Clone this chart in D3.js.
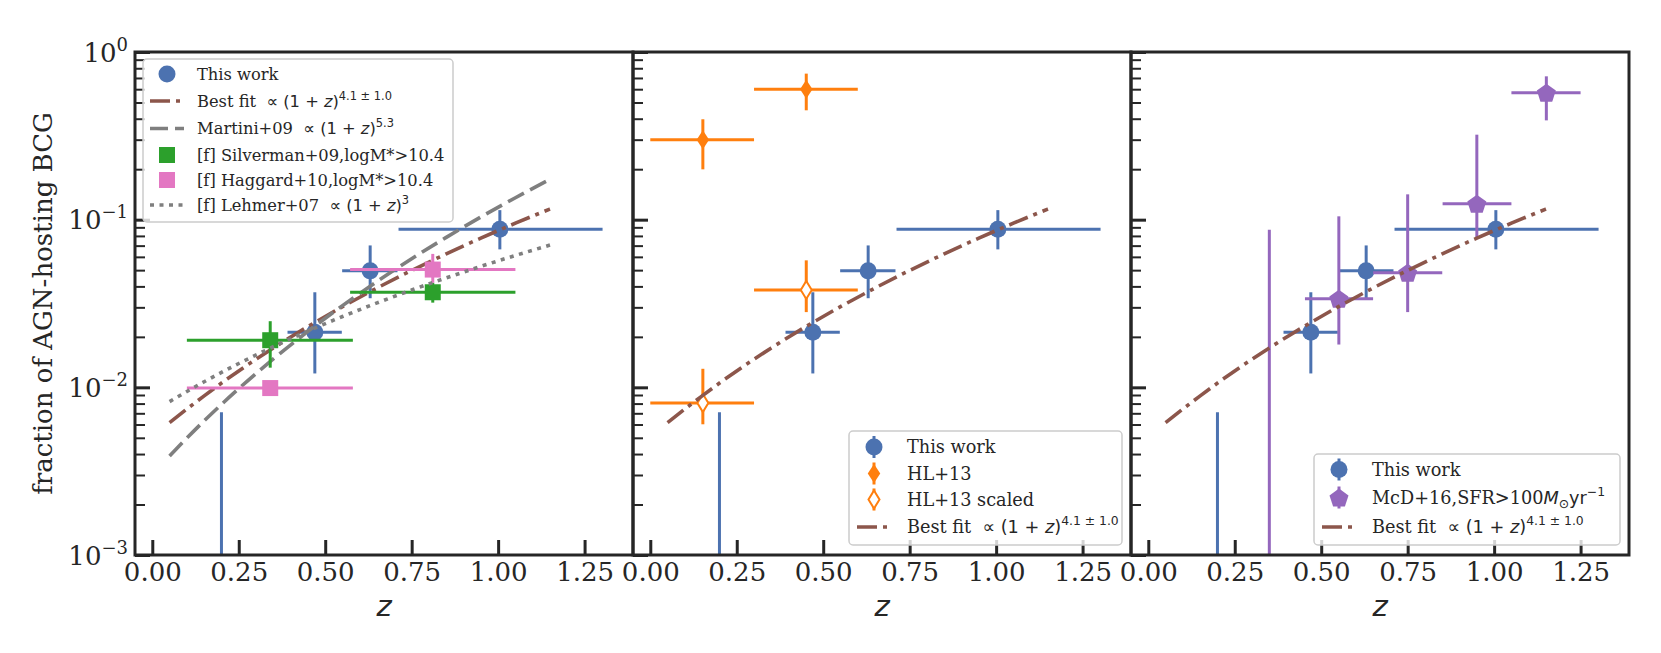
<!DOCTYPE html>
<html>
<head>
<meta charset="utf-8">
<script src="https://cdn.jsdelivr.net/npm/d3@7"></script>
<style>
  body { margin: 0; background: #fff; }
</style>
</head>
<body>
<svg id="fig" width="1661" height="653"></svg>
<script>
// ---- data ----
// This work (same points in every panel)
const workZ   = [0.20, 0.470, 0.630, 1.005];
const workF   = [0.0004, 0.0213, 0.0495, 0.0876];
const workFlo = [0.00001, 0.0121, 0.0340, 0.0665];
const workFhi = [0.0071, 0.0369, 0.0702, 0.1140];
const workZlo = [0.20, 0.391, 0.549, 0.712];
const workZhi = [0.20, 0.548, 0.709, 1.302];

// Silverman+09
const silZ   = [0.341, 0.811];
const silF   = [0.0191, 0.0369];
const silFlo = [0.0131, 0.0320];
const silFhi = [0.0248, 0.0420];
const silZlo = [0.10, 0.572];
const silZhi = [0.58, 1.05];

// Haggard+10
const hagZ   = [0.341, 0.811];
const hagF   = [0.0099, 0.0504];
const hagFlo = [0.0099, 0.0420];
const hagFhi = [0.0099, 0.0625];
const hagZlo = [0.10, 0.572];
const hagZhi = [0.58, 1.05];

// HL+13 and HL+13 scaled
const hlZ    = [0.152, 0.451];
const hlZlo  = [0.0, 0.30];
const hlZhi  = [0.30, 0.60];
const hlF    = [0.300, 0.599];
const hlFlo  = [0.1996, 0.449];
const hlFhi  = [0.397, 0.743];
const hlsF   = [0.00806, 0.0381];
const hlsFlo = [0.00602, 0.0281];
const hlsFhi = [0.0129, 0.0572];

// McD+16, SFR>100
const mcdZ   = [0.35, 0.551, 0.750, 0.950, 1.151];
const mcdF   = [0.0003, 0.0338, 0.0483, 0.1245, 0.572];
const mcdFlo = [0.00001, 0.0180, 0.0281, 0.0771, 0.391];
const mcdFhi = [0.0871, 0.1047, 0.1416, 0.3213, 0.716];
const mcdZlo = [0.35, 0.453, 0.650, 0.851, 1.050];
const mcdZhi = [0.35, 0.650, 0.850, 1.050, 1.250];

// model curves
const curveZ   = [0.05, 0.15, 0.25, 0.35, 0.45, 0.55, 0.65, 0.75, 0.85, 0.95, 1.05, 1.15];
const fitF     = [0.00616, 0.00890, 0.01253, 0.01718, 0.02303, 0.03027, 0.03912, 0.0498, 0.06253, 0.0776, 0.09525, 0.1158];
const martiniF = [0.00390, 0.00631, 0.00982, 0.01477, 0.02157, 0.03071, 0.04278, 0.05844, 0.07844, 0.1037, 0.1352, 0.1740];
const lehmerF  = [0.00822, 0.0108, 0.01387, 0.01747, 0.02165, 0.02644, 0.03189, 0.03805, 0.04495, 0.05265, 0.06117, 0.07056];

// ticks
const xTicks = [0, 0.25, 0.5, 0.75, 1.0, 1.25];
const yMajor = [1e-3, 1e-2, 1e-1, 1];
const yExp   = ["\u22123", "\u22122", "\u22121", "0"];

// ---- style ----
const ink = "#262626";
const serif = "DejaVu Serif";
const sans = "DejaVu Sans";
const C = {
  blue: "#4c72b0", orange: "#ff7f0e", green: "#2ca02c", pink: "#e377c2",
  brown: "#8c564b", gray: "#7f7f7f", purple: "#9467bd"
};

const svg = d3.select("#fig");
const topY = 52, H = 503, W = 498;
const lefts = [135, 633, 1131];

const x = d3.scaleLinear().domain([-0.05, 1.39]).range([0, W]);
const y = d3.scaleLog().domain([1e-3, 1]).range([H, 0]);

const yMinor = [];
[1e-3, 1e-2, 1e-1].forEach(b => d3.range(2, 10).forEach(k => yMinor.push(b * k)));

function rows(zs, fs, flo, fhi, zlo, zhi) {
  return zs.map((z, i) => ({ z, f: fs[i], flo: flo[i], fhi: fhi[i], zlo: zlo[i], zhi: zhi[i] }));
}
const work = rows(workZ, workF, workFlo, workFhi, workZlo, workZhi);
const sil = rows(silZ, silF, silFlo, silFhi, silZlo, silZhi);
const hag = rows(hagZ, hagF, hagFlo, hagFhi, hagZlo, hagZhi);
const hl = rows(hlZ, hlF, hlFlo, hlFhi, hlZlo, hlZhi);
const hls = rows(hlZ, hlsF, hlsFlo, hlsFhi, hlZlo, hlZhi);
const mcd = rows(mcdZ, mcdF, mcdFlo, mcdFhi, mcdZlo, mcdZhi);

// marker shapes
const pentagon = r => {
  const p = d3.path();
  d3.range(5).forEach(i => {
    const a = -Math.PI / 2 + i * 2 * Math.PI / 5;
    i ? p.lineTo(r * Math.cos(a), r * Math.sin(a)) : p.moveTo(r * Math.cos(a), r * Math.sin(a));
  });
  p.closePath();
  return p.toString();
};
const thinDiamond = (w, h) => `M0,${-h / 2}L${w / 2},0L0,${h / 2}L${-w / 2},0Z`;

function marker(g, kind, color, cx, cy) {
  if (kind === "circle") {
    g.append("circle").attr("cx", cx).attr("cy", cy).attr("r", 8.5).attr("fill", color);
  } else if (kind === "square") {
    g.append("rect").attr("x", cx - 8).attr("y", cy - 8).attr("width", 16).attr("height", 16).attr("fill", color);
  } else if (kind === "diamond") {
    g.append("path").attr("transform", `translate(${cx},${cy})`).attr("d", thinDiamond(12.5, 19)).attr("fill", color);
  } else if (kind === "odiamond") {
    g.append("path").attr("transform", `translate(${cx},${cy})`).attr("d", thinDiamond(11, 18))
      .attr("fill", "#fff").attr("stroke", color).attr("stroke-width", 2);
  } else if (kind === "pentagon") {
    g.append("path").attr("transform", `translate(${cx},${cy + 1})`).attr("d", pentagon(10)).attr("fill", color);
  }
}

function errorbars(g, data, color, kind) {
  const eb = g.append("g").attr("stroke", color).attr("stroke-width", 3);
  eb.selectAll(".v").data(data).enter().append("line")
    .attr("x1", d => x(d.z)).attr("x2", d => x(d.z))
    .attr("y1", d => y(d.flo)).attr("y2", d => y(d.fhi));
  eb.selectAll(".h").data(data.filter(d => d.zhi > d.zlo)).enter().append("line")
    .attr("x1", d => x(d.zlo)).attr("x2", d => x(d.zhi))
    .attr("y1", d => y(d.f)).attr("y2", d => y(d.f));
  data.forEach(d => marker(g, kind, color, x(d.z), y(d.f)));
}

const line = d3.line().x((d, i) => x(curveZ[i])).y(d => y(d)).curve(d3.curveMonotoneX);
function curve(g, fs, color, dash) {
  g.append("path").attr("d", line(fs)).attr("fill", "none")
    .attr("stroke", color).attr("stroke-width", 3.6).attr("stroke-dasharray", dash);
}
const dashFit = "20,6,4,6", dashMartini = "18,7", dashLehmer = "4,5.5";

// rich text with mathtext-like pieces
function richText(g, tx, ty, size, parts) {
  const t = g.append("text").attr("x", tx).attr("y", ty).attr("fill", ink).attr("font-size", size)
    .style("white-space", "pre");
  let shift = 0;
  parts.forEach(p => {
    const s = p.sup ? -0.45 * size : p.sub ? 0.25 * size : 0;
    const ts = t.append("tspan").attr("dy", s - shift).text(p.t)
      .attr("font-family", p.sans ? sans : serif)
      .attr("font-size", (p.sup || p.sub) ? size * 0.7 : size);
    if (p.it) ts.attr("font-style", "italic");
    shift = s;
  });
  return t;
}
const propTo = exp => [
  { t: "\u221d (1 + ", sans: true }, { t: "z", sans: true, it: true },
  { t: ")", sans: true }, { t: exp, sans: true, sup: true }
];

function legend(g, box, items, size) {
  g.append("rect").attr("x", box.x).attr("y", box.y).attr("width", box.w).attr("height", box.h)
    .attr("rx", 4).attr("fill", "#fff").attr("fill-opacity", 0.8)
    .attr("stroke", "#cccccc").attr("stroke-width", 1.5);
  items.forEach((it, i) => {
    const cy = box.rows[i];
    const mx = box.hx + 17;
    if (it.dash) {
      g.append("line").attr("x1", box.hx).attr("x2", box.hx + 34).attr("y1", cy).attr("y2", cy)
        .attr("stroke", it.color).attr("stroke-width", 3.6).attr("stroke-dasharray", it.dash);
    } else {
      if (it.bar) {
        g.append("line").attr("x1", mx).attr("x2", mx).attr("y1", cy - 11).attr("y2", cy + 11)
          .attr("stroke", it.color).attr("stroke-width", 3);
      }
      marker(g, it.kind, it.color, mx, cy);
    }
    richText(g, box.tx, cy + 0.36 * size, size, it.text);
  });
}

// ---- panels ----
lefts.forEach((lx, pi) => {
  const g = svg.append("g").attr("transform", `translate(${lx},${topY})`);
  const clipId = "clip" + pi;
  g.append("clipPath").attr("id", clipId).append("rect").attr("width", W).attr("height", H);
  const plot = g.append("g").attr("clip-path", `url(#${clipId})`);

  if (pi === 0) {
    errorbars(plot, work, C.blue, "circle");
    curve(plot, fitF, C.brown, dashFit);
    curve(plot, martiniF, C.gray, dashMartini);
    errorbars(plot, sil, C.green, "square");
    errorbars(plot, hag, C.pink, "square");
    curve(plot, lehmerF, C.gray, dashLehmer);
  } else if (pi === 1) {
    errorbars(plot, work, C.blue, "circle");
    errorbars(plot, hl, C.orange, "diamond");
    errorbars(plot, hls, C.orange, "odiamond");
    curve(plot, fitF, C.brown, dashFit);
  } else {
    errorbars(plot, work, C.blue, "circle");
    errorbars(plot, mcd, C.purple, "pentagon");
    curve(plot, fitF, C.brown, dashFit);
  }

  // x axis
  const xa = g.append("g").attr("transform", `translate(0,${H})`)
    .call(d3.axisBottom(x).tickValues(xTicks).tickSize(-15).tickPadding(8).tickFormat(d3.format(".2f")));
  xa.select(".domain").remove();
  xa.selectAll("line").attr("stroke", ink).attr("stroke-width", 3);
  xa.selectAll("text").attr("font-family", serif).attr("font-size", 26).attr("fill", ink);

  // y axis major + minor ticks (inward)
  const ya = g.append("g").call(d3.axisLeft(y).tickValues(yMajor).tickSize(-15).tickFormat(""));
  ya.select(".domain").remove();
  ya.selectAll("line").attr("stroke", ink).attr("stroke-width", 3);
  const ym = g.append("g").call(d3.axisLeft(y).tickValues(yMinor).tickSize(-10).tickFormat(""));
  ym.select(".domain").remove();
  ym.selectAll("line").attr("stroke", ink).attr("stroke-width", 2);

  if (pi === 0) {
    yMajor.forEach((v, i) => {
      const t = g.append("text").attr("x", -7).attr("y", y(v) + 9.5).attr("text-anchor", "end")
        .attr("fill", ink).attr("font-family", serif);
      t.append("tspan").attr("font-size", 26).text("10");
      t.append("tspan").attr("font-size", 18).attr("dy", -11).text(yExp[i]);
    });
  }

  // frame
  g.append("rect").attr("width", W).attr("height", H).attr("fill", "none")
    .attr("stroke", ink).attr("stroke-width", 3);

  // x label
  g.append("text").attr("x", W / 2).attr("y", 616 - topY).attr("text-anchor", "middle")
    .attr("font-family", sans).attr("font-style", "italic").attr("font-size", 29).attr("fill", ink).text("z");
});

// y label
svg.append("text").attr("transform", `translate(52,${topY + H / 2}) rotate(-90)`)
  .attr("text-anchor", "middle").attr("font-family", serif).attr("font-size", 26).attr("fill", ink)
  .text("fraction of AGN-hosting BCG");

// ---- legends ----
const fitText = [{ t: "Best fit  " }].concat(propTo("4.1 \u00b1 1.0"));
legend(svg.append("g"), { x: 143, y: 59, w: 310, h: 163, hx: 150, tx: 197,
  rows: [74, 101, 128.5, 155, 180, 205] }, [
  { kind: "circle", color: C.blue, text: [{ t: "This work" }] },
  { dash: dashFit, color: C.brown, text: fitText },
  { dash: dashMartini, color: C.gray, text: [{ t: "Martini+09  " }].concat(propTo("5.3")) },
  { kind: "square", color: C.green, text: [{ t: "[f] Silverman+09,logM*>10.4" }] },
  { kind: "square", color: C.pink, text: [{ t: "[f] Haggard+10,logM*>10.4" }] },
  { dash: dashLehmer, color: C.gray, text: [{ t: "[f] Lehmer+07  " }].concat(propTo("3")) }
], 16.3);

legend(svg.append("g"), { x: 849, y: 431, w: 273, h: 114, hx: 857, tx: 907,
  rows: [447, 473.5, 499.5, 527] }, [
  { kind: "circle", bar: true, color: C.blue, text: [{ t: "This work" }] },
  { kind: "diamond", bar: true, color: C.orange, text: [{ t: "HL+13" }] },
  { kind: "odiamond", bar: true, color: C.orange, text: [{ t: "HL+13 scaled" }] },
  { dash: dashFit, color: C.brown, text: fitText }
], 17.7);

legend(svg.append("g"), { x: 1314, y: 454, w: 306, h: 91, hx: 1322, tx: 1372,
  rows: [469.5, 497.5, 527] }, [
  { kind: "circle", bar: true, color: C.blue, text: [{ t: "This work" }] },
  { kind: "pentagon", bar: true, color: C.purple, text: [
    { t: "McD+16,SFR>100" }, { t: "M", sans: true, it: true }, { t: "\u2299", sans: true, sub: true },
    { t: "yr", sans: true }, { t: "\u22121", sans: true, sup: true }] },
  { dash: dashFit, color: C.brown, text: fitText }
], 17.7);
</script>
</body>
</html>
